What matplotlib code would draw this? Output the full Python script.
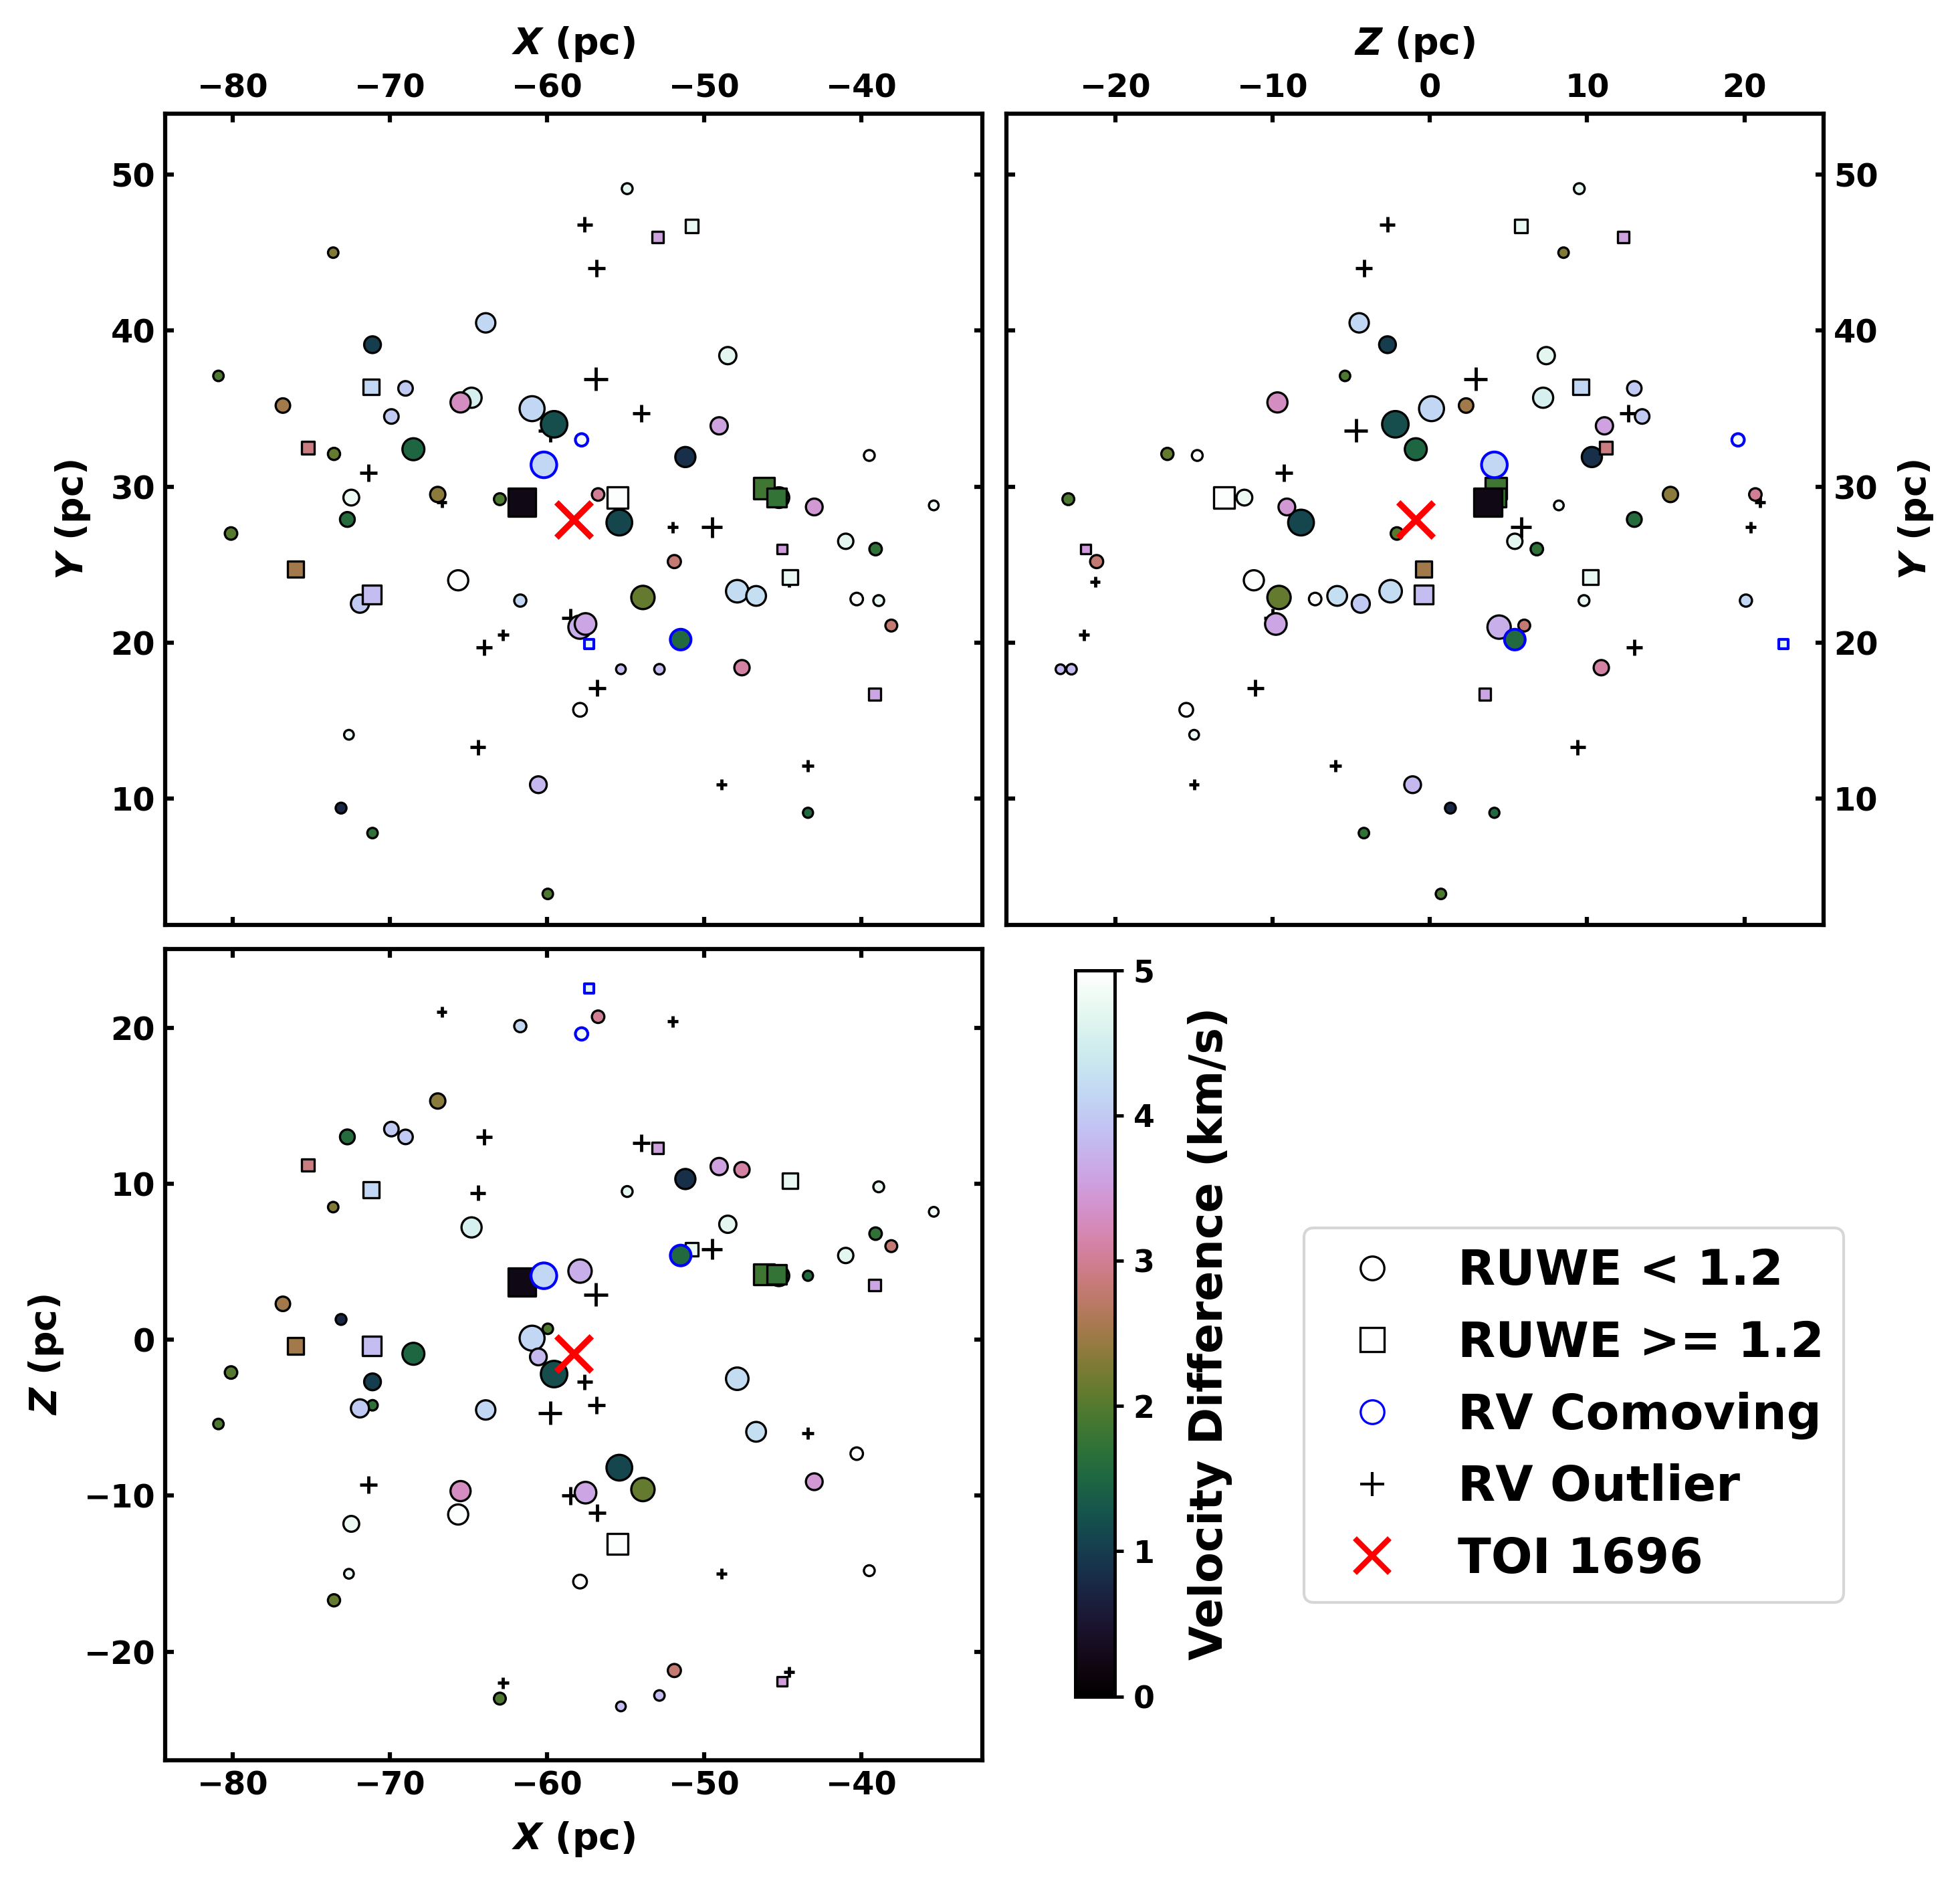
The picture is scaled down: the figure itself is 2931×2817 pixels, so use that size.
import matplotlib
matplotlib.use('Agg')
import matplotlib.pyplot as plt
from matplotlib.lines import Line2D

plt.rcParams['font.family'] = 'DejaVu Sans'
plt.rcParams['font.weight'] = 'bold'
plt.rcParams['mathtext.fontset'] = 'dejavusans'

# stars with RUWE < 1.2
circle_x = [-54.9, -73.6, -80.9, -76.8, -73.55, -80.1, -72.7, -72.45, -71.1, -69.9, -69.0, -68.5, -66.95,
            -64.8, -65.5, -65.65, -63.9, -63.0, -61.7, -60.95, -59.55, -60.55, -59.95, -57.9, -57.55, -57.9,
            -56.75, -55.4, -55.3, -53.9, -52.85, -51.9, -51.2, -49.05, -48.5, -47.9, -47.6, -46.7, -45.25,
            -43.0, -43.4, -41.0, -40.3, -39.5, -39.1, -38.9, -38.1, -35.4, -72.6, -73.1, -71.1, -71.9]
circle_y = [49.1, 45.0, 37.1, 35.2, 32.1, 27.0, 27.9, 29.3, 39.1, 34.5, 36.3, 32.4, 29.5,
            35.7, 35.4, 24.0, 40.5, 29.2, 22.7, 35.0, 34.0, 10.9, 3.9, 21.0, 21.2, 15.7,
            29.5, 27.7, 18.3, 22.9, 18.3, 25.2, 31.9, 33.9, 38.4, 23.3, 18.4, 23.0, 29.3,
            28.7, 9.1, 26.5, 22.8, 32.0, 26.0, 22.7, 21.1, 28.8, 14.1, 9.4, 7.8, 22.5]
circle_z = [9.5, 8.5, -5.4, 2.3, -16.7, -2.1, 13.0, -11.8, -2.7, 13.5, 13.0, -0.9, 15.3,
            7.2, -9.7, -11.2, -4.5, -23.0, 20.1, 0.1, -2.2, -1.1, 0.7, 4.4, -9.8, -15.5,
            20.7, -8.2, -23.5, -9.6, -22.8, -21.2, 10.3, 11.1, 7.4, -2.5, 10.9, -5.9, 4.1,
            -9.1, 4.1, 5.4, -7.3, -14.8, 6.8, 9.8, 6.0, 8.2, -15.0, 1.3, -4.2, -4.4]
circle_v = [4.7, 2.3, 1.95, 2.5, 2.1, 2.0, 1.6, 4.8, 1.0, 4.0, 4.0, 1.5, 2.35,
            4.55, 3.3, 4.95, 4.15, 1.95, 4.15, 4.15, 1.2, 3.8, 1.95, 3.7, 3.6, 5.0,
            3.0, 1.1, 3.85, 2.1, 3.85, 2.8, 0.85, 3.55, 4.7, 4.2, 3.1, 4.25, 1.7,
            3.45, 1.55, 4.7, 4.95, 5.0, 1.7, 4.75, 2.8, 4.85, 4.8, 0.75, 1.7, 4.0]
circle_s = [15, 14, 14, 27, 19, 20, 28, 32, 36, 27, 27, 62, 30,
            52, 52, 52, 48, 18, 19, 80, 90, 36, 14, 70, 60, 24,
            20, 85, 12, 70, 14, 22, 52, 38, 38, 65, 30, 50, 55,
            36, 13, 30, 20, 15, 20, 15, 18, 12, 12, 15, 14, 42]

# stars with RUWE >= 1.2
square_x = [-50.8, -52.95, -71.2, -75.2, -76.0, -71.15, -55.5, -46.2, -45.4, -45.05, -44.55, -39.15, -61.6]
square_y = [46.7, 46.0, 36.4, 32.5, 24.7, 23.1, 29.3, 29.9, 29.3, 26.0, 24.2, 16.7, 29.0]
square_z = [5.8, 12.3, 9.6, 11.2, -0.4, -0.4, -13.1, 4.2, 4.2, -21.9, 10.2, 3.5, 3.7]
square_v = [4.75, 3.55, 4.15, 2.9, 2.5, 3.85, 4.95, 1.85, 1.75, 3.5, 4.75, 3.6, 0.25]
square_s = [22, 17, 32, 20, 34, 46, 56, 56, 48, 12, 30, 18, 100]

# RV comoving stars, blue edge
comoving_x = [-60.2, -57.8, -51.5]
comoving_y = [31.4, 33.0, 20.2]
comoving_z = [4.1, 19.6, 5.4]
comoving_v = [4.15, 4.85, 1.55]
comoving_s = [85, 20, 55]

comoving_sq_x = [-57.3]
comoving_sq_y = [19.9]
comoving_sq_z = [22.5]
comoving_sq_v = [4.7]
comoving_sq_s = [12]

# RV outliers
outlier_x = [-57.6, -56.85, -56.9, -54.0, -59.8, -71.35, -66.7, -52.0, -49.5, -58.5, -64.0, -62.8, -56.8,
             -64.4, -43.4, -48.9, -44.6]
outlier_y = [46.8, 44.0, 36.9, 34.7, 33.6, 30.9, 29.0, 27.4, 27.4, 21.6, 19.7, 20.5, 17.1,
             13.3, 12.1, 10.9, 23.9]
outlier_z = [-2.7, -4.2, 2.9, 12.6, -4.7, -9.3, 21.0, 20.4, 5.8, -10.0, 13.0, -22.0, -11.1,
             9.4, -6.0, -15.0, -21.3]
outlier_s = [30, 38, 72, 38, 70, 38, 14, 16, 55, 40, 33, 16, 38, 30, 18, 14, 14]

toi_x, toi_y, toi_z = -58.3, 27.9, -0.9

x_ticks = [-80, -70, -60, -50, -40]
y_ticks = [10, 20, 30, 40, 50]
z_ticks = [-20, -10, 0, 10, 20]
cbar_ticks = [0, 1, 2, 3, 4, 5]

X_LIM = (-84.3, -32.3)
Y_LIM = (1.9, 53.9)
Z_LIM = (-26.95, 25.05)

W, H = 1568.0, 1507.0


def rect(l, t, r, b):
    return [l / W, 1 - b / H, (r - l) / W, (b - t) / H]


def draw_panel(ax, a, b):
    """a, b: one of 'x', 'y', 'z' for the horizontal and vertical axes"""
    c = {'x': (outlier_x, circle_x, square_x, comoving_x, comoving_sq_x, toi_x),
         'y': (outlier_y, circle_y, square_y, comoving_y, comoving_sq_y, toi_y),
         'z': (outlier_z, circle_z, square_z, comoving_z, comoving_sq_z, toi_z)}
    kw = dict(cmap='cubehelix', vmin=0, vmax=5)
    ax.scatter(c[a][0], c[b][0], s=outlier_s, marker='+', c='k', linewidths=1.15, zorder=2)
    sc = ax.scatter(c[a][1], c[b][1], s=circle_s, c=circle_v, edgecolors='k', linewidths=0.8, zorder=3, **kw)
    ax.scatter(c[a][2], c[b][2], s=square_s, c=square_v, marker='s', edgecolors='k', linewidths=0.8, zorder=4, **kw)
    ax.scatter(c[a][3], c[b][3], s=comoving_s, c=comoving_v, edgecolors='b', linewidths=1.0, zorder=5, **kw)
    ax.scatter(c[a][4], c[b][4], s=comoving_sq_s, c=comoving_sq_v, marker='s', edgecolors='b', linewidths=1.0, zorder=5, **kw)
    ax.scatter(c[a][5], c[b][5], s=160, marker='x', c='r', linewidths=2.2, zorder=6)
    ax.tick_params(direction='in', top=True, bottom=True, left=True, right=True,
                   length=3, width=1.5, labelsize=11.5)
    for sp in ax.spines.values():
        sp.set_linewidth(1.5)
    return sc


fig = plt.figure(figsize=(9.77, 9.39), dpi=300)
ax_xy = fig.add_axes(rect(132, 91, 786, 740))
ax_zy = fig.add_axes(rect(805, 91, 1459, 740))
ax_xz = fig.add_axes(rect(132, 759, 786, 1408))
cax = fig.add_axes(rect(860, 776, 892, 1357))

sc = draw_panel(ax_xy, 'x', 'y')
draw_panel(ax_zy, 'z', 'y')
draw_panel(ax_xz, 'x', 'z')

xlab = r'$\boldsymbol{X}$ (pc)'
ylab = r'$\boldsymbol{Y}$ (pc)'
zlab = r'$\boldsymbol{Z}$ (pc)'
lab_kw = dict(fontsize=13.3, fontweight='bold', labelpad=6.5)

ax_xy.set_xlim(*X_LIM)
ax_xy.set_ylim(*Y_LIM)
ax_xy.set_xticks(x_ticks)
ax_xy.set_yticks(y_ticks)
ax_xy.xaxis.set_label_position('top')
ax_xy.tick_params(labeltop=True, labelbottom=False)
ax_xy.set_xlabel(xlab, **lab_kw)
ax_xy.set_ylabel(ylab, **lab_kw)

ax_zy.set_xlim(*Z_LIM)
ax_zy.set_ylim(*Y_LIM)
ax_zy.set_xticks(z_ticks)
ax_zy.set_yticks(y_ticks)
ax_zy.xaxis.set_label_position('top')
ax_zy.yaxis.set_label_position('right')
ax_zy.tick_params(labeltop=True, labelbottom=False, labelleft=False, labelright=True)
ax_zy.set_xlabel(zlab, **lab_kw)
ax_zy.set_ylabel(ylab, **lab_kw)

ax_xz.set_xlim(*X_LIM)
ax_xz.set_ylim(*Z_LIM)
ax_xz.set_xticks(x_ticks)
ax_xz.set_yticks(z_ticks)
ax_xz.set_xlabel(xlab, **lab_kw)
ax_xz.set_ylabel(zlab, **lab_kw)

cb = fig.colorbar(sc, cax=cax)
cb.set_ticks(cbar_ticks)
cb.ax.tick_params(labelsize=11, width=1.2, length=3)
cb.outline.set_linewidth(1.2)
cb.set_label('Velocity Difference (km/s)', fontsize=16, fontweight='bold', labelpad=12)

handles = [
    Line2D([], [], ls='none', marker='o', mfc='w', mec='k', ms=8.5, mew=0.8),
    Line2D([], [], ls='none', marker='s', mfc='w', mec='k', ms=8.5, mew=0.8),
    Line2D([], [], ls='none', marker='o', mfc='w', mec='b', ms=8.5, mew=0.8),
    Line2D([], [], ls='none', marker='+', c='k', ms=8.5, mew=1.0),
    Line2D([], [], ls='none', marker='x', c='r', ms=12.5, mew=2.0),
]
labels = ['RUWE < 1.2', 'RUWE >= 1.2', 'RV Comoving', 'RV Outlier', 'TOI 1696']
fig.legend(handles, labels, loc='center', bbox_to_anchor=(1259 / W, 1 - 1132 / H),
           prop={'size': 17.5, 'weight': 'bold'}, handletextpad=0.75, handlelength=2.0)

fig.savefig('out.png', dpi=300)
